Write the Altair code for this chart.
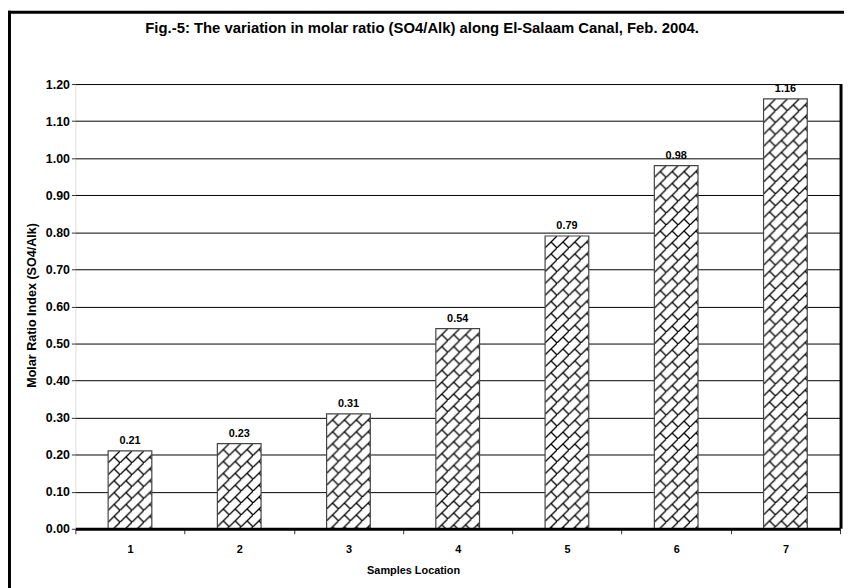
import altair as alt
import pandas as pd
from urllib.parse import quote

# ---- data ----
locations = ["1", "2", "3", "4", "5", "6", "7"]
ratios = [0.21, 0.23, 0.31, 0.54, 0.79, 0.98, 1.16]
y_ticks = [0.0, 0.1, 0.2, 0.3, 0.4, 0.5, 0.6, 0.7, 0.8, 0.9, 1.0, 1.1, 1.2]

title_text = "Fig.-5: The variation in molar ratio (SO4/Alk) along El-Salaam Canal, Feb. 2004."
x_title = "Samples Location"
y_title = "Molar Ratio Index (SO4/Alk)"

df = pd.DataFrame({"Location": locations, "Ratio": ratios})
one = pd.DataFrame({"k": [0]})

# ---- layout / style ----
W, H = 772, 449
FONT = "Liberation Sans"

tile = (
    "<svg xmlns='http://www.w3.org/2000/svg' width='100%' height='100%'>"
    "<defs><pattern id='p' width='12' height='12' patternUnits='userSpaceOnUse'>"
    "<path d='M-1 13 L13 -1 M6 6 L12 12' stroke='black' stroke-width='1.3' fill='none'/>"
    "</pattern></defs><rect width='100%' height='100%' fill='url(#p)'/></svg>"
)
pattern_url = "data:image/svg+xml;charset=utf-8," + quote(tile)

x_enc = alt.X(
    "Location:N",
    sort=locations,
    scale=alt.Scale(paddingInner=0, paddingOuter=0),
    axis=alt.Axis(
        title=x_title,
        labelAngle=0,
        tickBand="extent",
        grid=False,
        domainColor="black",
        domainWidth=3,
        tickColor="#333",
        tickSize=5,
        labelPadding=10,
        labelFont=FONT,
        labelFontSize=11,
        labelFontWeight="bold",
        labelColor="black",
        titleFont=FONT,
        titleFontSize=11,
        titleFontWeight="bold",
        titleColor="black",
        titleX=341,
        titleY=42,
        titleBaseline="middle",
        zindex=1,
    ),
)

y_enc = alt.Y(
    "Ratio:Q",
    scale=alt.Scale(domain=[0, 1.2], nice=False),
    axis=alt.Axis(
        title=y_title,
        values=y_ticks,
        format=".2f",
        grid=True,
        gridColor="black",
        gridWidth=1,
        domain=False,
        tickColor="#333",
        tickSize=4,
        labelPadding=2,
        labelFont=FONT,
        labelFontSize=12.5,
        labelFontWeight="bold",
        labelColor="black",
        titleFont=FONT,
        titleFontSize=12.7,
        titleFontWeight="bold",
        titleColor="black",
        titleX=-44.5,
        titleY=223,
        titleBaseline="middle",
    ),
)

base = alt.Chart(df).encode(x=x_enc, y=y_enc)

bars = base.mark_bar(width={"band": 0.4}, fill="white", stroke=None)
hatch = base.mark_image(width={"band": 0.4}, aspect=False).encode(
    url=alt.value(pattern_url), y2=alt.datum(0)
)
outline = base.mark_bar(width={"band": 0.4}, fillOpacity=0, stroke="#444", strokeWidth=1.2)
labels = base.mark_text(
    baseline="bottom", dy=-5, font=FONT, fontSize=11, fontWeight="bold", color="black"
).encode(text=alt.Text("Ratio:Q", format=".2f"))

right_edge = alt.Chart(one).mark_rule(color="black", strokeWidth=3).encode(
    x=alt.value(W + 1), y=alt.value(0), y2=alt.value(H)
)
frame_left = alt.Chart(one).mark_rule(color="black", strokeWidth=3).encode(
    x=alt.value(-66.5), y=alt.value(-74), y2=alt.value(510)
)
frame_top = alt.Chart(one).mark_rule(color="black", strokeWidth=3).encode(
    x=alt.value(-68), x2=alt.value(780), y=alt.value(-72.5)
)

chart = (
    alt.layer(bars, hatch, outline, labels, right_edge, frame_left, frame_top)
    .properties(
        width=W,
        height=H,
        autosize=alt.AutoSizeParams(type="none"),
        padding={"left": 68, "top": 74, "right": 4, "bottom": 57},
        title=alt.TitleParams(
            title_text,
            font=FONT,
            fontSize=15,
            fontWeight="bold",
            color="black",
            anchor="middle",
            dx=-36,
            offset=-42,
            baseline="bottom",
        ),
    )
    .configure_view(stroke="#333", strokeWidth=1.2)
    .configure(background="white")
)

chart.save("out.html", embed_options={"renderer": "svg", "actions": False})
